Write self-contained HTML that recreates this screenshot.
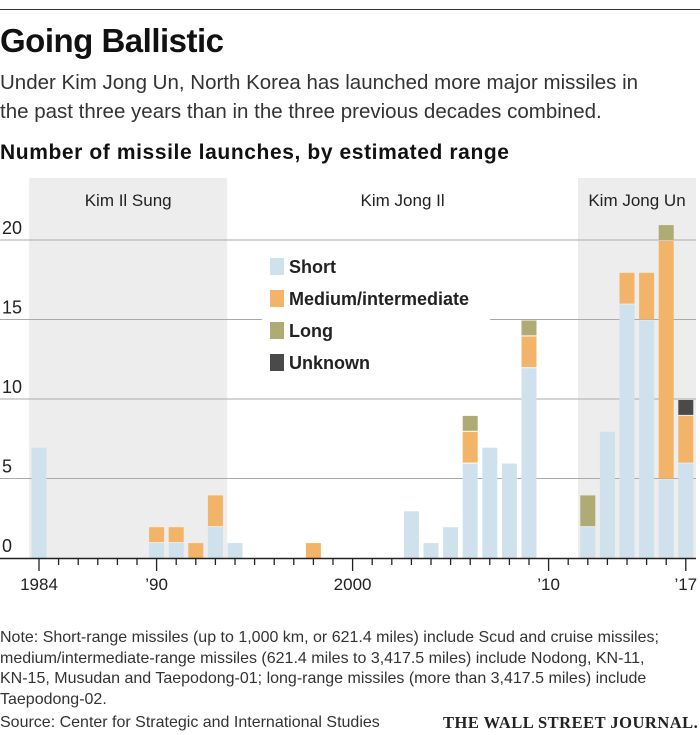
<!DOCTYPE html>
<html><head><meta charset="utf-8">
<style>
body{margin:0;background:#fff;font-family:"Liberation Sans",sans-serif;}
#wrap{position:relative;width:700px;height:735px;overflow:hidden;}
.t{position:absolute;white-space:nowrap;color:#222;}
</style></head>
<body>
<div id="wrap">
<div style="position:absolute;left:0;top:9px;width:700px;height:1px;background:#333"></div>
<div class="t" style="left:0;top:22px;font-size:33px;font-weight:bold;letter-spacing:-0.5px;color:#111">Going Ballistic</div>
<div class="t" style="left:0;top:68px;font-size:20.5px;line-height:29px;color:#333">Under Kim Jong Un, North Korea has launched more major missiles in<br>the past three years than in the three previous decades combined.</div>
<div class="t" style="left:0;top:141px;font-size:21px;font-weight:bold;color:#111;letter-spacing:0.6px">Number of missile launches, by estimated range</div>
<svg id="chart" width="700" height="600" style="position:absolute;left:0;top:0"></svg>
<div class="t" style="left:0;top:628px;font-size:16px;line-height:20.5px;color:#333">Note: Short-range missiles (up to 1,000 km, or 621.4 miles) include Scud and cruise missiles;<br>medium/intermediate-range missiles (621.4 miles to 3,417.5 miles) include Nodong, KN-11,<br>KN-15, Musudan and Taepodong-01; long-range missiles (more than 3,417.5 miles) include<br>Taepodong-02.</div>
<div class="t" style="left:0;top:714px;font-size:16px;color:#333">Source: Center for Strategic and International Studies</div>
<div class="t" style="left:443px;top:713px;font-size:16.5px;font-family:'Liberation Serif',serif;font-weight:bold;color:#222;letter-spacing:0.5px">THE WALL STREET JOURNAL.</div>
</div>
<script>
const years=[1984,1990,1991,1992,1993,1994,1998,2003,2004,2005,2006,2007,2008,2009,2012,2013,2014,2015,2016,2017];
const shortV=[7,1,1,0,2,1,0,3,1,2,6,7,6,12,2,8,16,15,5,6];
const mediumV=[0,1,1,1,2,0,1,0,0,0,2,0,0,2,0,0,2,3,15,3];
const longV=[0,0,0,0,0,0,0,0,0,0,1,0,0,1,2,0,0,0,1,0];
const unknownV=[0,0,0,0,0,0,0,0,0,0,0,0,0,0,0,0,0,0,0,1];
const yTicks=[0,5,10,15,20];
const xTickLabels=[[1984,"1984"],[1990,"’90"],[2000,"2000"],[2010,"’10"],[2017,"’17"]];
const eras=[["Kim Il Sung",1983.5,1993.6],["Kim Jong Il",1993.6,2011.5],["Kim Jong Un",2011.5,2018.1]];
const NS="http://www.w3.org/2000/svg";
const svg=document.getElementById('chart');
const x=yr=>39+(yr-1984)*19.6;
const y=v=>558-v*15.9;
function mk(tag,at,parent){const e=document.createElementNS(NS,tag);for(const k in at)e.setAttribute(k,at[k]);(parent||svg).appendChild(e);return e;}
eras.forEach((e,i)=>{
  if(i!==1){const r=mk('rect',{x:Math.max(28,x(e[1])),y:178,width:Math.min(696,x(e[2]))-Math.max(28,x(e[1])),height:380,fill:'#ededed'});
  
  }
  const t=mk('text',{x:(Math.max(28,x(e[1]))+Math.min(696,x(e[2])))/2,y:206,'text-anchor':'middle','font-size':17,fill:'#222','font-family':'Liberation Sans, sans-serif'});
  t.textContent=e[0];
  
  
});
yTicks.forEach(v=>{
  if(v>0){const l=mk('line',{x1:0,x2:696,y1:y(v),y2:y(v),stroke:'#aaa','stroke-width':1});
  
  }
  const t=mk('text',{x:2,y:y(v)-6,'font-size':18,fill:'#222','font-family':'Liberation Sans, sans-serif'});
  t.textContent=v;
  
  
});
const cols=['#cfe1ec','#f2b468','#aeab74','#4a4a4a'];
const series=[shortV,mediumV,longV,unknownV];
years.forEach((yr,i)=>{
  let base=0;
  series.forEach((s,j)=>{
    if(s[i]>0){
      const r=mk('rect',{x:x(yr)-7.5,y:y(base+s[i])+1,width:15,height:s[i]*15.9-1,fill:cols[j]});
      
      
      base+=s[i];
    }
  });
});
mk('line',{x1:0,x2:696,y1:558.5,y2:558.5,stroke:'#222','stroke-width':1.5});
for(let yr=1984;yr<=2017;yr++){
  const big=xTickLabels.some(t=>t[0]===yr);
  mk('line',{x1:x(yr),x2:x(yr),y1:558,y2:big?571:565,stroke:'#222','stroke-width':1.3});
}
xTickLabels.forEach(t=>{
  const e=mk('text',{x:x(t[0]),y:590,'text-anchor':'middle','font-size':17,fill:'#222','font-family':'Liberation Sans, sans-serif'});
  e.textContent=t[1];
  
  
});
const legNames=['Short','Medium/intermediate','Long','Unknown'];
mk('rect',{x:262,y:252,width:228,height:128,fill:'#fff'});
legNames.forEach((n,i)=>{
  const r=mk('rect',{x:270,y:258+i*32,width:14,height:17,fill:cols[i]});
  
  
  const t=mk('text',{x:289,y:273+i*32,'font-size':18,'font-weight':'bold',fill:'#222','font-family':'Liberation Sans, sans-serif'});
  t.textContent=n;
  
  
});
</script>
</body></html>
